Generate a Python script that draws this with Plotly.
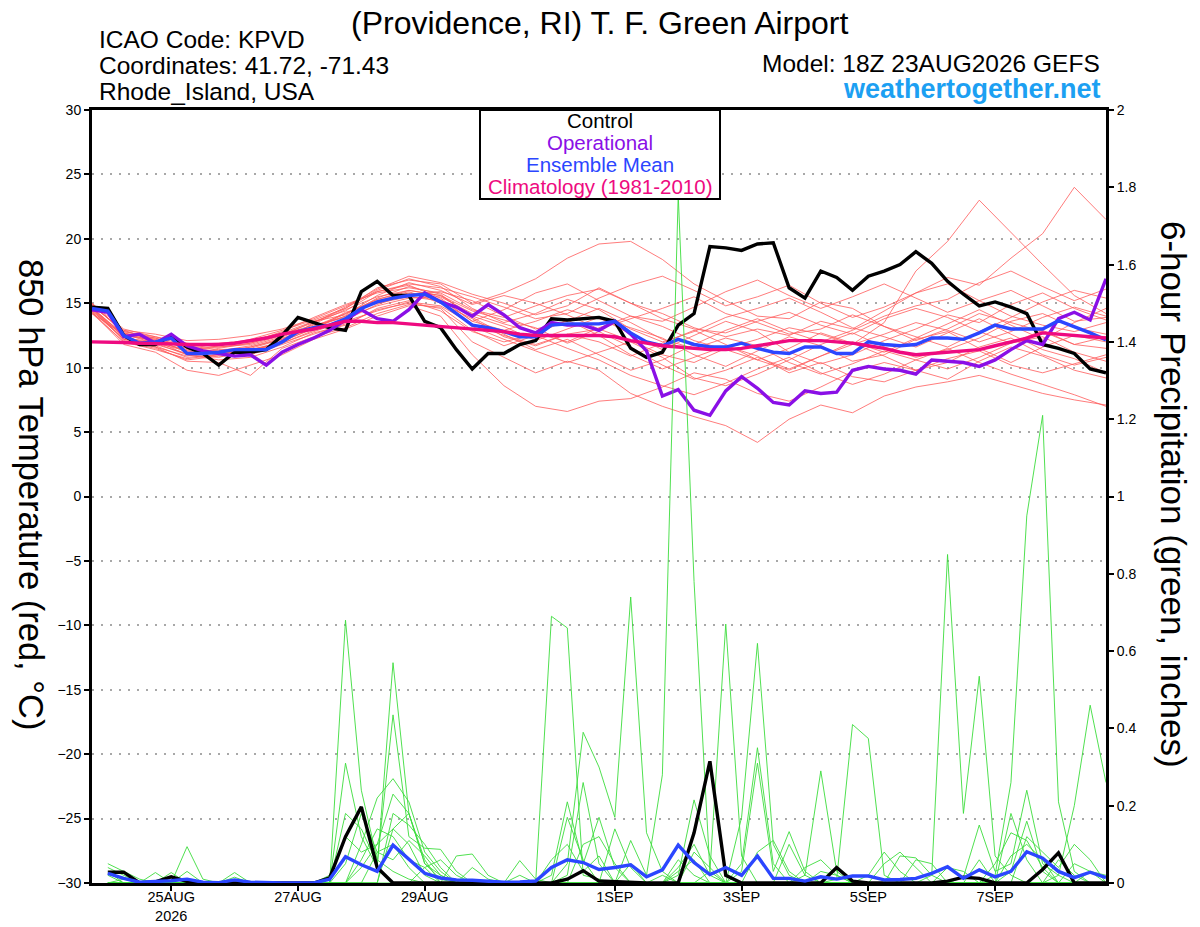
import pandas as pd
import plotly.graph_objects as go

# 6-hourly valid times of the GEFS run (18Z 23AUG2026, 0..384 h)
times = pd.date_range("2026-08-23 18:00", periods=65, freq="6h")
member_times = times[::2]      # ensemble members read every 12 h
precip_times = times[1:]       # 6-hour accumulations end at these times

# ---- 850 hPa temperature (C), 6-hourly ----
control_t = [14.7, 14.6, 12.5, 11.8, 11.8, 12.5, 11.6, 11.1, 10.2, 11.2, 11.2, 11.4, 12.5,
             13.9, 13.5, 13.1, 12.9, 15.9, 16.7, 15.6, 15.6, 13.6, 13.1, 11.4, 9.9, 11.1,
             11.1, 11.8, 12.1, 13.8, 13.7, 13.8, 13.9, 13.6, 11.5, 10.8, 11.2, 13.3, 14.2,
             19.4, 19.3, 19.1, 19.6, 19.7, 16.2, 15.4, 17.5, 17.0, 16.0, 17.1, 17.5, 18.0,
             19.0, 18.1, 16.7, 15.7, 14.8, 15.1, 14.7, 14.2, 11.8, 11.5, 11.1, 9.9, 9.6]
oper_t = [14.5, 14.3, 12.4, 12.6, 11.9, 12.6, 11.7, 11.3, 11.1, 10.9, 11.0, 10.2, 11.2,
          11.8, 12.3, 12.9, 13.7, 14.5, 13.8, 13.6, 14.5, 15.8, 15.1, 14.7, 14.0, 14.9,
          14.1, 13.1, 12.7, 13.5, 13.3, 13.3, 12.9, 13.6, 12.6, 11.3, 7.8, 8.3, 6.7,
          6.3, 8.2, 9.3, 8.4, 7.3, 7.1, 8.2, 8.0, 8.1, 9.8, 10.1, 9.9, 9.8,
          9.5, 10.6, 10.5, 10.4, 10.1, 10.6, 11.4, 12.1, 11.8, 13.8, 14.3, 13.7, 16.9]
mean_t = [14.6, 14.4, 12.5, 11.9, 12.0, 12.3, 11.1, 11.1, 11.2, 11.4, 11.4, 11.4, 12.0,
          12.8, 13.1, 13.3, 13.8, 14.6, 15.1, 15.4, 15.6, 15.7, 15.1, 14.2, 13.3, 13.1,
          12.8, 12.4, 12.4, 13.3, 13.4, 13.4, 13.4, 13.6, 12.7, 12.0, 11.7, 12.2, 11.8,
          11.6, 11.6, 11.9, 11.5, 11.2, 11.1, 11.6, 11.6, 11.1, 11.1, 12.0, 11.8, 11.7,
          11.8, 12.3, 12.3, 12.2, 12.7, 13.3, 13.0, 13.0, 13.0, 13.65, 13.2, 12.7, 12.15]
clim_t = [12.0, 12.0, 11.95, 11.9, 11.9, 11.85, 11.8, 11.8, 11.8, 11.9, 12.1, 12.3, 12.6,
          12.8, 13.0, 13.3, 13.6, 13.6, 13.5, 13.5, 13.4, 13.3, 13.2, 13.1, 13.0, 12.9,
          12.8, 12.6, 12.5, 12.5, 12.5, 12.5, 12.5, 12.4, 12.1, 11.9, 11.7, 11.6, 11.5,
          11.4, 11.4, 11.5, 11.7, 11.9, 12.1, 12.1, 12.1, 12.0, 11.9, 11.7, 11.5, 11.2,
          11.0, 11.1, 11.2, 11.3, 11.4, 11.7, 12.0, 12.3, 12.7, 12.6, 12.5, 12.4, 12.3]

# ensemble members, 12-hourly
members_t = [
    [14.9, 12.8, 12.3, 11.5, 11.8, 12.0, 12.8, 13.9, 14.9, 15.8, 16.2, 15.8, 14.5, 13.9, 14.8, 15.6, 16.1,
     15.0, 14.2, 13.1, 12.4, 13.0, 12.5, 13.6, 13.0, 14.4, 15.8, 17.0, 16.4, 18.5, 20.4, 24.0, 21.5],
    [14.5, 12.2, 11.7, 10.8, 11.0, 11.3, 12.0, 13.5, 14.6, 16.2, 16.8, 16.5, 15.0, 15.8, 16.9, 18.5, 19.6,
     19.8, 18.4, 16.5, 15.2, 14.0, 13.8, 15.1, 14.6, 13.2, 12.1, 13.0, 14.2, 13.5, 12.8, 11.8, 11.5],
    [14.7, 12.5, 12.1, 11.3, 11.0, 11.6, 12.3, 13.0, 14.2, 15.3, 15.9, 15.0, 13.8, 12.4, 11.7, 12.6, 13.0,
     12.1, 11.0, 10.4, 11.5, 12.2, 13.1, 12.6, 11.8, 13.5, 17.5, 19.8, 23.0, 20.5, 18.0, 15.6, 14.2],
    [14.2, 12.0, 11.5, 10.6, 10.9, 11.0, 11.8, 12.6, 13.4, 14.5, 15.0, 14.6, 12.0, 10.8, 9.6, 10.5, 9.8,
     8.0, 7.0, 6.2, 5.5, 4.2, 6.0, 7.1, 6.5, 7.8, 8.5, 8.9, 9.4, 8.7, 8.0, 7.5, 7.1],
    [14.8, 12.9, 12.6, 12.1, 12.2, 12.5, 13.0, 13.8, 14.8, 15.9, 16.5, 16.2, 15.5, 14.7, 13.8, 14.2, 15.4,
     16.4, 17.1, 16.0, 14.8, 15.5, 16.4, 15.0, 13.9, 14.7, 15.8, 16.5, 15.2, 14.0, 13.3, 12.8, 13.5],
    [14.3, 11.8, 11.2, 9.8, 9.4, 10.2, 11.0, 12.2, 13.0, 14.0, 14.8, 14.0, 11.0, 8.6, 7.0, 6.6, 7.4,
     7.6, 8.5, 9.6, 9.1, 8.0, 7.4, 8.5, 9.7, 10.4, 9.8, 9.1, 10.5, 11.6, 10.9, 9.8, 9.2],
    [15.0, 13.0, 12.4, 11.7, 11.4, 11.5, 12.2, 13.4, 14.5, 15.5, 16.0, 15.6, 14.0, 13.2, 12.1, 13.0, 13.9,
     12.6, 11.4, 12.5, 13.6, 12.8, 11.2, 10.3, 11.0, 12.1, 13.0, 14.1, 13.5, 14.9, 15.8, 14.6, 13.7],
    [14.6, 12.6, 11.9, 11.0, 10.6, 10.8, 11.6, 12.7, 13.3, 14.6, 15.2, 14.4, 12.8, 12.0, 12.6, 13.7, 12.5,
     11.0, 9.9, 10.8, 11.7, 10.9, 9.6, 10.4, 9.3, 8.9, 9.8, 10.7, 11.3, 10.2, 9.6, 10.3, 11.0],
    [14.4, 12.3, 12.0, 11.4, 11.6, 11.8, 12.5, 13.6, 14.1, 15.6, 16.6, 16.0, 14.9, 15.6, 15.0, 14.1, 13.0,
     13.8, 14.6, 15.5, 14.2, 13.5, 12.6, 13.0, 14.1, 13.2, 12.4, 11.6, 12.8, 13.9, 15.1, 16.0, 15.4],
    [14.9, 12.7, 12.2, 11.2, 11.3, 11.7, 12.4, 13.2, 14.0, 15.2, 15.8, 15.3, 13.6, 12.9, 13.6, 14.5, 13.8,
     13.1, 12.3, 11.0, 10.1, 11.3, 12.4, 11.7, 10.5, 11.0, 12.2, 12.8, 11.5, 10.4, 11.6, 12.5, 12.0],
    [14.5, 12.4, 11.8, 11.1, 11.2, 11.2, 12.1, 13.0, 14.3, 15.0, 15.5, 15.2, 13.2, 12.2, 11.3, 10.4, 11.2,
     12.0, 10.8, 9.2, 8.6, 9.5, 10.6, 11.8, 12.7, 11.6, 10.8, 11.4, 12.3, 13.6, 14.2, 13.1, 12.6],
    [14.7, 12.1, 11.6, 10.9, 11.5, 11.9, 12.6, 13.3, 13.9, 14.8, 15.4, 15.5, 14.2, 13.4, 12.7, 12.0, 13.1,
     14.0, 13.2, 12.1, 11.4, 10.6, 9.8, 10.9, 11.8, 12.6, 13.5, 12.9, 12.0, 12.8, 13.9, 14.7, 14.0],
    [14.2, 12.6, 12.3, 11.6, 11.1, 11.3, 11.9, 12.9, 13.7, 14.9, 15.7, 15.9, 15.2, 14.0, 13.0, 13.6, 14.6,
     13.5, 12.2, 11.5, 12.3, 11.7, 10.4, 9.5, 10.3, 11.3, 10.6, 9.9, 10.8, 11.9, 12.4, 11.2, 10.5],
    [14.8, 12.9, 12.1, 11.0, 10.8, 11.4, 12.0, 13.1, 14.0, 15.4, 16.3, 15.7, 13.9, 12.6, 11.4, 12.2, 11.0,
     9.8, 10.6, 11.8, 12.9, 13.8, 12.8, 12.0, 12.9, 14.0, 14.8, 15.3, 16.6, 17.5, 16.3, 15.2, 16.1],
    [14.4, 12.2, 11.9, 11.3, 11.7, 12.2, 12.9, 13.7, 14.6, 16.0, 16.9, 16.3, 14.6, 13.5, 14.2, 15.3, 14.5,
     13.0, 12.0, 12.8, 13.9, 14.6, 15.4, 14.3, 13.1, 12.4, 11.6, 12.7, 13.8, 12.6, 11.4, 10.7, 9.6],
    [14.6, 12.4, 11.6, 10.5, 10.4, 9.4, 11.5, 12.4, 13.1, 14.2, 14.9, 14.7, 12.9, 11.7, 12.5, 11.5, 10.6,
     9.4, 8.6, 7.9, 8.8, 9.9, 10.8, 9.6, 8.7, 9.5, 10.6, 11.5, 10.4, 9.5, 8.7, 7.9, 7.0],
    [15.0, 12.7, 12.0, 11.8, 11.9, 12.1, 12.7, 13.6, 14.4, 15.9, 16.4, 15.4, 13.6, 14.5, 15.8, 16.5, 15.2,
     14.0, 13.6, 14.7, 15.9, 16.8, 15.6, 14.6, 15.5, 16.5, 15.4, 14.3, 15.2, 16.0, 14.8, 13.6, 13.9],
    [14.3, 12.0, 11.4, 10.7, 11.0, 11.4, 11.9, 12.8, 13.6, 14.4, 15.1, 14.8, 13.4, 12.5, 11.8, 12.6, 12.0,
     10.9, 11.9, 12.9, 11.8, 10.6, 11.5, 12.7, 11.9, 10.9, 9.8, 10.4, 11.6, 12.3, 11.0, 10.2, 10.8],
    [14.6, 12.5, 12.2, 11.5, 11.3, 11.6, 12.2, 13.2, 14.2, 15.3, 16.0, 15.6, 14.4, 13.7, 13.1, 11.9, 12.8,
     11.6, 10.2, 9.1, 9.8, 10.8, 9.9, 10.9, 12.0, 11.2, 12.3, 13.4, 14.5, 13.3, 12.2, 13.5, 14.6],
    [14.9, 12.8, 12.4, 11.9, 11.6, 11.9, 12.6, 13.5, 14.7, 16.1, 17.1, 16.6, 15.7, 15.0, 14.1, 14.8, 16.2,
     15.0, 13.8, 13.0, 12.7, 13.6, 14.3, 13.3, 12.6, 13.8, 14.6, 13.9, 12.8, 11.9, 12.9, 11.8, 12.4],
]

# ---- 6-hour precipitation (inches) ----
control_p = [.028, .028, 0, .003, .016, .004, 0, 0, 0, 0, 0, 0, 0, 0, .013, .12,
             .197, .04, 0, 0, 0, 0, 0, 0, 0, 0, 0, 0, 0, .01, .032, .005,
             .003, 0, 0, 0, 0, .13, .315, .02, 0, 0, 0, 0, 0, 0, .04, .005,
             0, 0, 0, 0, 0, .005, .015, .012, 0, 0, 0, .035, .078, 0, 0, 0]
mean_p = [.025, .012, .002, .003, .006, .01, .002, .001, .008, .002, 0, 0, 0, 0, .01, .068,
          .047, .03, .098, .06, .025, .013, .008, .007, .004, .002, .003, .005, .04, .06, .053, .035,
          .04, .047, .016, .034, .098, .053, .022, .04, .02, .07, .012, .012, .005, .016, .01, .018,
          .018, .008, .009, .012, .025, .042, .012, .034, .016, .03, .081, .064, .03, .014, .028, .014]
members_p = [
    [.05, .03, .01, 0, 0, 0, 0, 0, 0, 0, 0, 0, 0, 0, 0, .68,
     .24, .06, .03, .01, 0, 0, 0, 0, 0, 0, 0, 0, 0, .02, .26, .05,
     0, 0, 0, 0, 0, 0, 0, 0, 0, 0, 0, 0, .02, .29, .03, 0,
     0, 0, 0, 0, 0, 0, 0, 0, 0, 0, 0, 0, 0, 0, 0, 0],
    [0, 0, 0, 0, 0, 0, 0, 0, 0, 0, 0, 0, 0, 0, 0, .31,
     .12, .04, .57, .18, .05, .02, 0, 0, 0, 0, 0, 0, .69, .66, .02, .01,
     0, 0, 0, 0, 0, 0, 0, 0, 0, 0, 0, 0, 0, 0, 0, 0,
     0, 0, .07, .065, .02, 0, 0, 0, 0, 0, 0, 0, 0, 0, 0, 0],
    [0, 0, 0, 0, 0, 0, 0, 0, 0, 0, 0, 0, 0, 0, 0, .18,
     .14, .05, .435, .12, .09, .087, .03, 0, 0, 0, 0, 0, 0, 0, 0, 0,
     0, .11, .02, .28, 1.78, .78, .03, 0, 0, 0, 0, 0, 0, 0, 0, 0,
     0, 0, 0, 0, 0, 0, 0, 0, 0, .03, .16, .03, 0, 0, 0, 0],
    [0, 0, 0, 0, 0, .094, .01, 0, 0, 0, 0, 0, 0, 0, 0, 0,
     .04, .1, .23, .18, .05, .01, 0, 0, 0, 0, 0, 0, 0, .05, .39, .30,
     .17, .74, .13, .03, 0, 0, 0, 0, 0, 0, 0, 0, 0, 0, 0, 0,
     0, 0, 0, 0, .02, .85, .18, .535, .07, .02, 0, 0, 0, 0, 0, 0],
    [.03, 0, 0, 0, 0, 0, 0, 0, 0, 0, 0, 0, 0, 0, 0, 0,
     0, 0, .14, .18, .06, 0, 0, 0, 0, 0, .058, .01, 0, 0, 0, 0,
     0, 0, 0, 0, 0, 0, .03, .67, .07, 0, 0, 0, 0, 0, .01, .41,
     .374, .02, 0, 0, 0, 0, 0, 0, 0, 0, 0, 0, 0, 0, 0, 0],
    [0, 0, 0, 0, .027, 0, 0, 0, 0, 0, 0, 0, 0, 0, 0, 0,
     0, .08, .1, .04, 0, 0, 0, 0, 0, 0, 0, 0, 0, 0, 0, 0,
     0, 0, 0, 0, 0, 0, 0, 0, .17, .62, .10, .02, 0, 0, 0, 0,
     0, 0, 0, 0, 0, 0, 0, 0, .02, .26, .95, 1.21, .21, .03, 0, 0],
    [0, 0, 0, .027, 0, 0, 0, 0, .027, 0, 0, 0, 0, 0, 0, 0,
     0, 0, 0, 0, .04, 0, .07, .075, .02, 0, 0, 0, 0, 0, 0, 0,
     0, 0, 0, 0, .02, .215, .07, 0, .05, .35, .05, 0, 0, 0, 0, 0,
     0, 0, 0, 0, 0, 0, 0, 0, 0, 0, 0, 0, .02, .2, .46, .26],
    [0, 0, 0, 0, 0, 0, 0, 0, 0, 0, 0, 0, 0, 0, 0, 0,
     0, 0, .18, .15, .1, .04, 0, 0, 0, 0, 0, 0, .02, .21, .05, .17,
     .04, 0, 0, 0, 0, 0, 0, 0, .03, .31, .03, .133, .03, 0, 0, 0,
     0, 0, 0, 0, 0, 0, .015, .15, .03, .05, .24, .05, .02, 0, 0, 0],
    [0, 0, 0, 0, 0, 0, 0, 0, 0, 0, 0, 0, 0, 0, .02, .12,
     .08, .1, .14, .1, .02, 0, 0, .04, .01, 0, 0, 0, 0, .17, .06, 0,
     .14, .04, 0, 0, .04, .1, .02, 0, 0, 0, 0, 0, 0, .03, .02, 0,
     0, 0, 0, .06, .05, 0, 0, 0, 0, .18, .06, 0, .06, .02, 0, 0],
    [.04, .02, 0, 0, 0, 0, 0, 0, 0, 0, 0, 0, 0, 0, 0, 0,
     .06, .14, .12, .06, .04, .06, .02, 0, 0, 0, 0, 0, 0, 0, 0, 0,
     0, 0, 0, 0, .06, .02, 0, 0, 0, 0, 0, .1, .02, 0, 0, 0,
     .02, .08, .03, 0, 0, 0, 0, .06, 0, 0, .12, .08, .04, .1, .06, 0],
    [0, .01, 0, 0, 0, .03, 0, 0, .015, 0, 0, 0, 0, 0, 0, 0,
     .1, .22, .27, .21, .08, .03, 0, 0, 0, 0, 0, 0, 0, 0, .1, .12,
     .05, 0, 0, 0, .03, .06, 0, 0, 0, 0, 0, 0, .04, .06, .02, 0,
     0, .05, .08, .04, 0, 0, 0, 0, .05, .13, .11, .04, 0, 0, .03, 0],
    [.02, 0, 0, 0, 0, 0, 0, 0, 0, 0, 0, 0, 0, 0, 0, .05,
     .18, .08, .06, .11, .07, .02, 0, 0, 0, 0, .02, 0, .06, .1, .03, .07,
     0, .05, 0, .02, 0, .08, .04, 0, 0, .08, .11, .03, 0, 0, 0, 0,
     0, 0, 0, 0, 0, .04, .03, 0, 0, .07, .1, .06, 0, .05, .03, .02],
]

tick_dates = ["2026-08-25", "2026-08-27", "2026-08-29", "2026-09-01",
              "2026-09-03", "2026-09-05", "2026-09-07"]
tick_text = ["25AUG<br>2026", "27AUG", "29AUG", "1SEP", "3SEP", "5SEP", "7SEP"]

RED = "#FF5A5A"
GREEN = "#3CDC3C"
PURPLE = "#8A0FE6"
BLUE = "#2B46FF"
PINK = "#EE0A80"
FONT = "Liberation Sans, Arial, Helvetica, sans-serif"

# the page body adds an 8 px margin, so the figure is drawn 8 px smaller
PAGE_W, PAGE_H, OFF = 1200, 927, 8
W, H = PAGE_W - OFF, PAGE_H - OFF
# plot frame, in page pixels
L, R, T, B = 92, 1106, 110, 883


def px(x, y):
    return (x - L) / (R - L), (B - y) / (B - T)


fig = go.Figure()

for m in members_t:
    fig.add_trace(go.Scatter(x=member_times, y=m, mode="lines",
                             line=dict(color=RED, width=0.8), hoverinfo="skip"))
for m in members_p:
    fig.add_trace(go.Scatter(x=precip_times, y=m, mode="lines", yaxis="y2",
                             line=dict(color=GREEN, width=0.9), hoverinfo="skip"))

fig.add_trace(go.Scatter(x=precip_times, y=control_p, mode="lines", yaxis="y2",
                         line=dict(color="black", width=3.4)))
fig.add_trace(go.Scatter(x=precip_times, y=mean_p, mode="lines", yaxis="y2",
                         line=dict(color=BLUE, width=3.4)))

fig.add_trace(go.Scatter(x=times, y=control_t, mode="lines", line=dict(color="black", width=3.4)))
fig.add_trace(go.Scatter(x=times, y=oper_t, mode="lines", line=dict(color=PURPLE, width=3.4)))
fig.add_trace(go.Scatter(x=times, y=mean_t, mode="lines", line=dict(color=BLUE, width=3.4)))
fig.add_trace(go.Scatter(x=times, y=clim_t, mode="lines", line=dict(color=PINK, width=3.4)))

fig.update_layout(
    width=W, height=H, autosize=False,
    margin=dict(l=L - OFF, r=PAGE_W - R, t=T - OFF, b=PAGE_H - B, autoexpand=False),
    paper_bgcolor="white", plot_bgcolor="white",
    showlegend=False,
    font=dict(family=FONT, color="black"),
    xaxis=dict(
        range=[times[0], times[-1]],
        tickvals=tick_dates, ticktext=tick_text,
        ticks="outside", ticklen=5, tickwidth=1.5, tickcolor="black",
        tickfont=dict(size=14.5), ticklabelstandoff=-6,
        showgrid=False, showline=True, linecolor="black", linewidth=3, mirror=True,
        automargin=False,
    ),
    yaxis=dict(
        range=[-30, 30], dtick=5,
        ticks="outside", ticklen=5, tickwidth=1.5, tickcolor="black",
        tickfont=dict(size=14),
        showgrid=True, gridcolor="#A8A8A8", griddash="2px,7px", gridwidth=1.5,
        zeroline=False, showline=True, linecolor="black", linewidth=3,
        automargin=False,
    ),
    yaxis2=dict(
        range=[0, 2], dtick=0.2, overlaying="y", side="right",
        ticks="outside", ticklen=5, tickwidth=1.5, tickcolor="black",
        tickfont=dict(size=14),
        showgrid=False, zeroline=False, showline=True, linecolor="black", linewidth=3,
        automargin=False,
    ),
)

# legend box
x0, y0 = px(480, 199)
x1, y1 = px(720, 110)
fig.add_shape(type="rect", xref="paper", yref="paper", x0=x0, y0=y0, x1=x1, y1=y1,
              line=dict(color="black", width=2), fillcolor="white", layer="above")


def label(text, x, y, size, color="black", xanchor="center", angle=0, bold=False):
    ax, ay = px(x, y)
    if bold:
        text = "<b>" + text + "</b>"
    fig.add_annotation(text=text, x=ax, y=ay, xref="paper", yref="paper",
                       xanchor=xanchor, yanchor="middle", showarrow=False,
                       textangle=angle, font=dict(size=size, color=color, family=FONT))


label("(Providence, RI) T. F. Green Airport", 599, 23, 32)
label("ICAO Code: KPVD", 97, 40, 24.5, xanchor="left")
label("Coordinates: 41.72, -71.43", 97, 66, 24.5, xanchor="left")
label("Rhode_Island, USA", 97, 92, 24.5, xanchor="left")
label("Model: 18Z 23AUG2026 GEFS", 1102, 63, 24.5, xanchor="right")
label("weathertogether.net", 1103, 89, 27, color="#1CA0F2", xanchor="right", bold=True)

label("Control", 600, 121, 20.5)
label("Operational", 600, 142, 20.5, color=PURPLE)
label("Ensemble Mean", 600, 164, 20.5, color=BLUE)
label("Climatology (1981-2010)", 600, 186, 20.5, color=PINK)

label("850 hPa Temperature (red, °C)", 31, 494, 34.5, angle=90)
label("6-hour Precipitation (green, inches)", 1173, 494, 35, angle=90)

fig.write_html("out.html")
